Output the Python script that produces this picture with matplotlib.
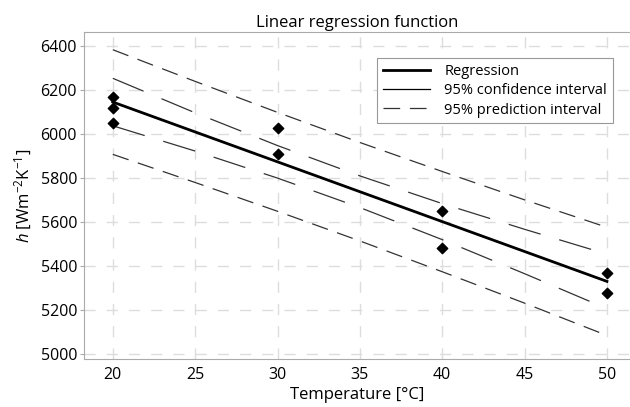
import numpy as np
import matplotlib.pyplot as plt
from matplotlib.lines import Line2D

plt.rcParams['font.family'] = ['Open Sans', 'DejaVu Sans']
plt.rcParams['mathtext.fontset'] = 'custom'
plt.rcParams['mathtext.rm'] = 'Open Sans'
plt.rcParams['mathtext.it'] = 'Open Sans:italic'
plt.rcParams['lines.scale_dashes'] = False

# measured points
temp = [20, 20, 20, 30, 30, 40, 40, 50, 50]
h_vals = [6168, 6121, 6049, 6026, 5908, 5650, 5480, 5370, 5276]

# regression line and interval bands read at these temperatures
t_line = [20, 25, 30, 35, 40, 45, 50]
h_fit = [6146, 6010, 5874, 5738, 5602, 5466, 5330]
ci_half = [108, 87, 74, 72, 82, 101, 124]
pi_half = [238, 230, 225, 224, 228, 235, 246]

x_ticks = [20, 25, 30, 35, 40, 45, 50]
y_ticks = [5000, 5200, 5400, 5600, 5800, 6000, 6200, 6400]

fit = np.array(h_fit)
ci = np.array(ci_half)
pi = np.array(pi_half)

fig = plt.figure(figsize=(6.3, 4.07), dpi=100)
ax = fig.add_axes([0.1333, 0.118, 0.8667, 0.803])

ax.plot(t_line, fit + pi, color='#333333', lw=0.9, dashes=(12, 7))
ax.plot(t_line, fit - pi, color='#333333', lw=0.9, dashes=(12, 7))
ax.plot(t_line, fit + ci, color='#333333', lw=0.9, dashes=(24, 14))
ax.plot(t_line, fit - ci, color='#333333', lw=0.9, dashes=(24, 14))
ax.plot(t_line, fit, color='black', lw=2.0)
ax.scatter(temp, h_vals, marker='D', s=28, color='black', zorder=5)

ax.set_xlim(18.25, 51.4)
ax.set_ylim(4977, 6464)
ax.set_xticks(x_ticks)
ax.set_yticks(y_ticks)
ax.grid(True, color='#dddddd', lw=1.0, dashes=(8, 8))
ax.set_axisbelow(True)

for s in ['left', 'bottom', 'top']:
    ax.spines[s].set_color('#aaaaaa')
ax.spines['right'].set_visible(False)
ax.tick_params(axis='y', length=3, color='#aaaaaa', labelsize=11.5, pad=2)
ax.tick_params(axis='x', length=0, labelsize=11.5, pad=6)

ax.set_title('Linear regression function', fontsize=12, pad=4)
ax.set_xlabel('Temperature [°C]', fontsize=12, labelpad=3)
ax.set_ylabel(r'$h$ [Wm$^{-2}$K$^{-1}$]', fontsize=12, labelpad=5)

handles = [
    Line2D([], [], color='black', lw=2.0),
    Line2D([], [], color='black', lw=0.9),
    Line2D([], [], color='#333333', lw=0.9, dashes=(12, 7)),
]
labels = ['Regression', '95% confidence interval', '95% prediction interval']
leg = ax.legend(handles, labels, loc='upper right', bbox_to_anchor=(0.969, 0.921),
                fontsize=10.5, frameon=True, fancybox=False, framealpha=1,
                edgecolor='#999999', handlelength=3.2, borderpad=0.4,
                labelspacing=0.3, handletextpad=1.0, borderaxespad=0)
leg.get_frame().set_linewidth(0.8)

fig.savefig('out.png', dpi=100)
